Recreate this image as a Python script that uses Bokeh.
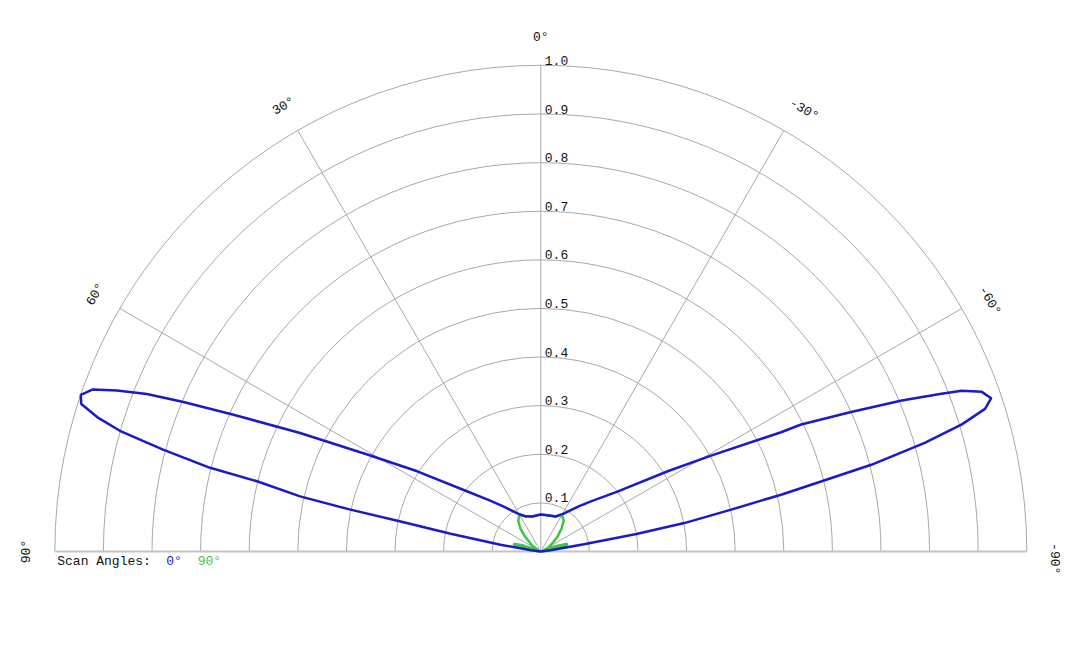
import numpy as np
from bokeh.plotting import figure
from bokeh.models import Range1d
from bokeh.embed import file_html
from bokeh.resources import INLINE
from bokeh.core.properties import value

# ---------------- data ----------------
# scan angle 0 deg (blue): polar angle (deg, 0 = up, +ve = left) and normalized level
scan0_theta = [-90, -82, -80.5, -79.6, -78.8, -77.6, -76.7, -76.3, -75.3, -74.2, -73.2,
               -72.2, -71.2, -70.1, -69.1, -68.5, -67.3, -65.8, -64.0, -63.6, -60.6,
               -57.7, -52.0, -45, -40, -30.2, -28, -22.8, -13, 0, 13.8, 23.6, 31.2, 40,
               45, 50.7, 57, 60.8, 63.8, 66.0, 67.3, 68.2, 69.2, 70.1, 71.2, 72.2, 73.2,
               74.0, 74.9, 75.8, 76.1, 77.1, 77.6, 77.9, 78.9, 80.5, 82, 90]
scan0_r = [0.0, 0.02, 0.09, 0.2, 0.301, 0.401, 0.508, 0.552, 0.703, 0.821, 0.905,
           0.96, 0.979, 0.965, 0.927, 0.886, 0.805, 0.70, 0.596, 0.552, 0.402,
           0.309, 0.2, 0.146, 0.121, 0.089, 0.086, 0.078, 0.076, 0.076, 0.074, 0.079, 0.091, 0.122,
           0.149, 0.195, 0.303, 0.409, 0.552, 0.692, 0.797, 0.873, 0.933, 0.98, 1.0, 0.993, 0.951,
           0.901, 0.805, 0.702, 0.60, 0.508, 0.401, 0.295, 0.189, 0.084, 0.02, 0.0]

# scan angle 90 deg (green)
scan90_theta = [-90, -82, -79, -76, -73.7, -70, -66, -61.7, -55, -48.9, -42.4, -36.6, -30,
                -22.8, -13, 0, 13.8, 23.6, 30, 36, 41.8, 47, 55, 62, 68, 71, 74, 76.5, 79, 82, 90]
scan90_r = [0.0, 0.005, 0.03, 0.055, 0.057, 0.03, 0.005, 0.019, 0.028, 0.045, 0.063, 0.079, 0.087,
            0.078, 0.076, 0.076, 0.074, 0.079, 0.088, 0.079, 0.063, 0.043, 0.022, 0.006, 0.006,
            0.04, 0.058, 0.055, 0.03, 0.005, 0.0]

ring_values = [0.1, 0.2, 0.3, 0.4, 0.5, 0.6, 0.7, 0.8, 0.9, 1.0]
ring_labels = ["0.1", "0.2", "0.3", "0.4", "0.5", "0.6", "0.7", "0.8", "0.9", "1.0"]
spoke_angles = [-90, -60, -30, 0, 30, 60, 90]
spoke_labels = ["-90°", "-60°", "-30°", "0°", "30°", "60°", "90°"]
legend_title = "Scan Angles:"
legend_names = ["0°", "90°"]
legend_colors = ["#1a1acc", "#44c444"]

# ---------------- layout ----------------
W, H = 1072, 640
SCALE = 486.0          # px per unit radius
CX, CY = 540.3, 551.0  # centre in canvas px (from top-left)
FONT = value("Liberation Mono")
TXT = "#111111"


def to_xy(theta_deg, r):
    t = np.radians(np.asarray(theta_deg, dtype=float))
    r = np.asarray(r, dtype=float)
    return -r * np.sin(t), r * np.cos(t)


p = figure(width=W, height=H, output_backend="svg", toolbar_location=None,
           x_axis_type=None, y_axis_type=None, min_border=0,
           x_range=Range1d(-CX / SCALE, (W - CX) / SCALE),
           y_range=Range1d(-(H - CY) / SCALE, CY / SCALE))
p.outline_line_color = None
p.xgrid.visible = False
p.ygrid.visible = False
p.background_fill_color = "white"
p.border_fill_color = "white"

# rings
p.arc(x=0, y=0, radius=ring_values, start_angle=0, end_angle=np.pi,
      line_color="#a8a8a8", line_width=1)

# spokes
inner = [a for a in spoke_angles if abs(a) < 90]
sx, sy = to_xy(inner, [1.0] * len(inner))
p.segment(x0=0, y0=0, x1=sx, y1=sy, line_color="#a8a8a8", line_width=1)
# baseline (+-90)
bx, by = to_xy([spoke_angles[0], spoke_angles[-1]], [1.0, 1.0])
p.segment(x0=[bx[0]], y0=[by[0]], x1=[bx[1]], y1=[by[1]], line_color="#c4c4c4", line_width=2)

# ring labels
p.text(x=[0.0] * len(ring_values), y=ring_values, text=ring_labels,
       x_offset=4, y_offset=-5, text_font=FONT, text_font_size="13px",
       text_color=TXT, text_align="left", text_baseline="alphabetic")

# angle labels (tangential)
lab_theta = [a - 0.8 if a < 0 else a for a in spoke_angles]
lx, ly = to_xy(lab_theta, [1.058] * len(spoke_angles))
p.text(x=lx, y=ly, text=spoke_labels, angle=list(np.radians(spoke_angles)),
       text_font=FONT, text_font_size="13px", text_color=TXT,
       text_align="center", text_baseline="middle")

# data curves
gx, gy = to_xy(scan90_theta, scan90_r)
p.line(gx, gy, line_color=legend_colors[1], line_width=2.5)
bx0, by0 = to_xy(scan0_theta, scan0_r)
p.line(bx0, by0, line_color=legend_colors[0], line_width=2.5)

# legend text
leg_x = -0.995
leg_y = -10.0 / SCALE
p.text(x=[leg_x], y=[leg_y], text=[legend_title], text_font=FONT, text_font_size="13px",
       text_color=TXT, text_align="left", text_baseline="middle")
p.text(x=[leg_x, leg_x], y=[leg_y, leg_y], text=legend_names, x_offset=[109, 140.5],
       text_font=FONT, text_font_size="13px", text_color=legend_colors,
       text_align="left", text_baseline="middle")

open("out.html", "w").write(file_html(p, INLINE))
